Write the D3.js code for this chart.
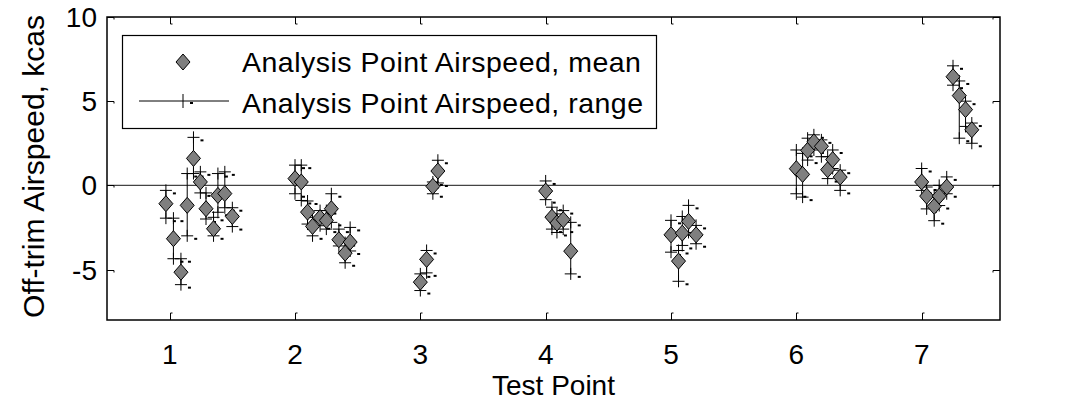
<!DOCTYPE html>
<html><head><meta charset="utf-8">
<script src="https://cdn.jsdelivr.net/npm/d3@7"></script>
<style>body{margin:0;background:#fff}svg{display:block}text{font-family:"Liberation Sans",Arial,sans-serif;fill:#000}</style>
</head><body><svg id="c" width="1069" height="402"></svg>
<script>
// ---- data ----
const xPos = [
  0.97,1.03,1.09,1.14,1.19,1.245,1.29,1.35,1.385,1.44,1.50,
  2.0,2.05,2.1,2.14,2.2,2.25,2.29,2.35,2.4,2.44,
  3.0,3.05,3.1,3.14,
  4.0,4.05,4.09,4.14,4.2,
  5.0,5.06,5.09,5.14,5.2,
  6.0,6.05,6.09,6.14,6.2,6.25,6.29,6.35,
  7.0,7.04,7.1,7.14,7.2,7.25,7.3,7.35,7.4];
const meanVals = [
  -1.09,-3.17,-5.16,-1.19,1.6,0.2,-1.39,-2.58,-0.6,-0.49,-1.85,
  0.4,0.2,-1.59,-2.44,-1.92,-2.08,-1.39,-3.23,-4.03,-3.37,
  -5.75,-4.4,-0.06,0.85,
  -0.34,-1.89,-2.24,-2.04,-3.91,
  -2.94,-4.5,-2.84,-2.14,-2.94,
  0.99,0.65,2.08,2.58,2.32,0.93,1.53,0.49,
  0.2,-0.64,-1.25,-0.64,-0.1,6.45,5.33,4.5,3.3];
const rangeMin = [
  -1.95,-4.36,-5.9,-3.0,0.7,-0.45,-2.0,-3.0,-1.6,-1.33,-2.45,
  -0.5,-0.9,-2.3,-3.0,-2.4,-2.6,-2.2,-3.6,-4.6,-3.9,
  -6.25,-5.2,-0.5,0.14,
  -0.85,-2.6,-2.8,-2.6,-5.26,
  -3.97,-5.7,-3.57,-2.8,-3.47,
  -0.5,-0.7,1.5,2.1,1.7,0.4,1.0,-0.3,
  -0.3,-1.4,-2.1,-1.2,-0.5,5.95,2.8,3.5,2.5];
const rangeMax = [
  -0.3,-1.95,-4.36,0.7,2.85,0.8,-0.45,-1.9,0.7,0.8,-1.33,
  1.2,1.2,-0.93,-1.9,-1.5,-1.5,-0.5,-2.6,-3.4,-2.5,
  -5.26,-3.87,0.2,1.49,
  0.26,-1.3,-1.7,-1.5,-2.2,
  -2.08,-3.87,-1.85,-1.19,-2.38,
  2.1,1.9,2.8,3.0,2.7,1.7,2.1,0.9,
  1.0,-0.1,-0.6,0.0,0.5,7.1,6.2,5.0,3.7];
const xTicks = [1,2,3,4,5,6,7];
const yTicks = [-5,0,5,10];
const legendLabels = ["Analysis Point Airspeed, mean","Analysis Point Airspeed, range"];
const xLabel = "Test Point";
const yLabel = "Off-trim Airspeed, kcas";

// ---- chart ----
const svg = d3.select("#c");
const L=107, T=17, R=1000, B=320;
const x = d3.scaleLinear().domain([0.5,7.625]).range([L,R]);
const y = d3.scaleLinear().domain([-8,10]).range([B,T]);

// zero line
svg.append("line").attr("x1",L).attr("x2",R).attr("y1",y(0)).attr("y2",y(0))
  .attr("stroke","#444").attr("stroke-width",1.2);

// ticks (inward, with tiny hook)
const tk = svg.append("g").attr("stroke","#000").attr("fill","none").attr("stroke-width",1);
xTicks.forEach(v=>{
  const px = Math.round(x(v))+0.5;
  tk.append("path").attr("d",`M${px},${B}V${B-7}h2`);
  tk.append("path").attr("d",`M${px},${T}V${T+7}h2`);
});
yTicks.forEach(v=>{
  const py = Math.round(y(v))+0.5;
  tk.append("path").attr("d",`M${L},${py}H${L+7}v2`);
  tk.append("path").attr("d",`M${R},${py}H${R-7}v2`);
});

// frame
svg.append("rect").attr("x",L).attr("y",T).attr("width",R-L).attr("height",B-T)
  .attr("fill","none").attr("stroke","#000").attr("stroke-width",1.5);

// tick labels
svg.append("g").selectAll("text").data(xTicks).join("text")
  .attr("x",d=>x(d)).attr("y",B+44).attr("text-anchor","middle")
  .attr("font-size",28).text(d=>d);
svg.append("g").selectAll("text").data(yTicks).join("text")
  .attr("x",L-10).attr("y",d=>y(d)+10).attr("text-anchor","end")
  .attr("font-size",28).text(d=>d);

// axis labels
svg.append("text").attr("x",(L+R)/2).attr("y",395).attr("text-anchor","middle")
  .attr("font-size",28).text(xLabel);
svg.append("text").attr("transform",`translate(44,${(T+B)/2-2}) rotate(-90)`)
  .attr("text-anchor","middle").attr("font-size",30).text(yLabel);

// range marks
const idx = d3.range(xPos.length);
const rg = svg.append("g").attr("stroke","#000").attr("fill","none");
function plus(g, cx, cy){
  g.append("path").attr("d",`M${cx-6},${cy}H${cx+6}M${cx},${cy-6}V${cy+6}`).attr("stroke-width",1);
  g.append("path").attr("d",`M${cx+7},${cy+3}h3`).attr("stroke-width",2);
}
idx.forEach(i=>{
  const cx = x(xPos[i]);
  rg.append("line").attr("x1",cx).attr("x2",cx).attr("y1",y(rangeMin[i])).attr("y2",y(rangeMax[i])).attr("stroke-width",1);
  plus(rg, cx, y(rangeMin[i]));
  plus(rg, cx, y(rangeMax[i]));
});

// mean diamonds
const diamond = (cx,cy)=>`M${cx},${cy-8}L${cx+7},${cy}L${cx},${cy+8}L${cx-7},${cy}Z`;
svg.append("g").selectAll("path").data(idx).join("path")
  .attr("d",i=>diamond(x(xPos[i]),y(meanVals[i])))
  .attr("fill","#7f7f7f").attr("stroke","#000").attr("stroke-width",1);

// legend
const lg = svg.append("g");
lg.append("rect").attr("x",122.5).attr("y",35.5).attr("width",534).attr("height",93)
  .attr("fill","#fff").attr("stroke","#000").attr("stroke-width",1.2);
lg.append("path").attr("d",diamond(183,62)).attr("fill","#7f7f7f").attr("stroke","#000");
lg.append("line").attr("x1",139).attr("x2",229).attr("y1",101).attr("y2",101).attr("stroke","#000");
lg.append("path").attr("d",`M183,94V108`).attr("stroke","#000");
lg.append("path").attr("d",`M190,103h3`).attr("stroke","#000").attr("stroke-width",2);
lg.selectAll("text.l").data(legendLabels).join("text")
  .attr("x",242).attr("y",(d,i)=>i?113:72).attr("font-size",28.5)
  .attr("letter-spacing",0.5).text(d=>d);
</script></body></html>
